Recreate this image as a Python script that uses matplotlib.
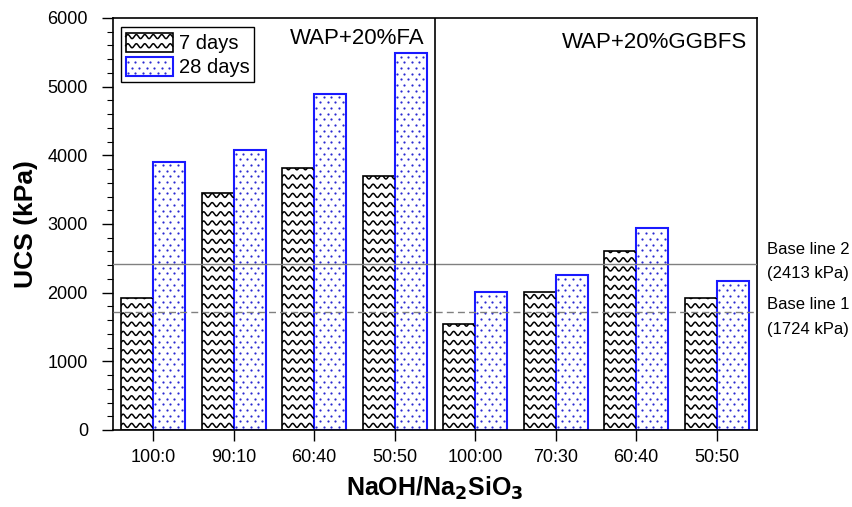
import numpy as np
import matplotlib.pyplot as plt
import matplotlib.transforms as mtransforms
from matplotlib.patches import Rectangle
from matplotlib.lines import Line2D
from matplotlib.legend_handler import HandlerBase

plt.rcParams['font.family'] = ['Liberation Sans', 'DejaVu Sans']

# NaOH/Na2SiO3 ratios, FA mixes first then GGBFS mixes
ratios = ['100:0', '90:10', '60:40', '50:50', '100:00', '70:30', '60:40', '50:50']
ucs_7 = [1920, 3455, 3810, 3700, 1545, 2015, 2610, 1920]
ucs_28 = [3905, 4075, 4900, 5495, 2005, 2250, 2945, 2170]
base_vals = [2413, 1724]
group_names = ['WAP+20%FA', 'WAP+20%GGBFS']

BLUE = '#1a1aff'
DOT = '#2a2ad0'


def wave_lines(x0, y0, wd, ht, period, gap, amp):
    # rows of sine curves filling a box
    xs = np.linspace(x0, x0 + wd, 200)
    out = []
    yy = y0 + gap * 0.5
    while yy < y0 + ht + amp:
        out.append((xs, yy + amp * np.sin(2 * np.pi * (xs - x0) / period)))
        yy += gap
    return out


def dot_grid(x0, y0, wd, ht, dx, dy):
    px, py = [], []
    row = 0
    yy = y0 + dy * 0.5
    while yy < y0 + ht:
        xx = x0 + dx * (0.3 if row % 2 == 0 else 0.8)
        while xx < x0 + wd:
            px.append(xx)
            py.append(yy)
            xx += dx
        yy += dy
        row += 1
    return px, py


fig = plt.figure(figsize=(8.52, 5.07), dpi=100)
ax = fig.add_axes([0.1326, 0.1519, 0.7559, 0.8126])
x = np.arange(len(ratios))
w = 0.4
ax.set_xlim(-0.5, 7.5)
ax.set_ylim(0, 6000)

bars7 = ax.bar(x - w / 2, ucs_7, w, facecolor='white', edgecolor='black', lw=1.2, zorder=2)
bars28 = ax.bar(x + w / 2, ucs_28, w, facecolor='white', edgecolor=BLUE, lw=1.5, zorder=2)

# pixel sizes expressed in data units
p0 = ax.transData.transform((0, 0))
p1 = ax.transData.transform((1, 1000))
sx = 1.0 / (p1[0] - p0[0])
sy = 1000.0 / (p1[1] - p0[1])

for b in bars7:
    for xs, ys in wave_lines(b.get_x(), 0, b.get_width(), b.get_height(),
                             8.5 * sx, 9.2 * sy, 2.0 * sy):
        ln = ax.plot(xs, ys, color='black', lw=1.1, zorder=2.5)[0]
        ln.set_clip_path(b)

for b in bars28:
    px, py = dot_grid(b.get_x(), 0, b.get_width(), b.get_height(), 7.5 * sx, 5.7 * sy)
    pts = ax.plot(px, py, ls='none', marker='o', ms=1.6, mew=0, color=DOT, zorder=2.5)[0]
    pts.set_clip_path(b)

# base lines and the divider between binder groups
ax.axhline(base_vals[0], color='#808080', lw=1.0, zorder=3)
ax.axhline(base_vals[1], color='#808080', lw=1.0, ls=(0, (5, 3)), zorder=3)
ax.axvline(3.5, color='black', lw=1.2, zorder=3)

trans = mtransforms.blended_transform_factory(ax.transAxes, ax.transData)
labels = [('Base line 2', base_vals[0], 11), ('(2413 kPa)', base_vals[0], -6.5),
          ('Base line 1', base_vals[1], 5), ('(1724 kPa)', base_vals[1], -13)]
for txt, yv, off in labels:
    ax.annotate(txt, xy=(1.015, yv), xycoords=trans, xytext=(0, off),
                textcoords='offset points', va='center', ha='left',
                fontsize=12, annotation_clip=False)

ax.text(0.4845, 0.975, group_names[0], transform=ax.transAxes, ha='right', va='top', fontsize=16)
ax.text(0.9845, 0.967, group_names[1], transform=ax.transAxes, ha='right', va='top', fontsize=16)


class WaveHandler(HandlerBase):
    def legend_artist(self, legend, orig_handle, fontsize, handlebox):
        x0, y0 = -handlebox.xdescent, -handlebox.ydescent
        wd, ht = handlebox.width, handlebox.height
        tr = handlebox.get_transform()
        handlebox.add_artist(Rectangle((x0, y0), wd, ht, facecolor='white', edgecolor='none', transform=tr))
        for xs, ys in wave_lines(x0, y0 + 1.0, wd, ht - 3.5, 6.1, 6.6, 1.45):
            handlebox.add_artist(Line2D(xs, ys, color='black', lw=1.1, transform=tr))
        edge = Rectangle((x0, y0), wd, ht, facecolor='none', edgecolor='black', lw=1.2, transform=tr)
        handlebox.add_artist(edge)
        return edge


class DotHandler(HandlerBase):
    def legend_artist(self, legend, orig_handle, fontsize, handlebox):
        x0, y0 = -handlebox.xdescent, -handlebox.ydescent
        wd, ht = handlebox.width, handlebox.height
        tr = handlebox.get_transform()
        handlebox.add_artist(Rectangle((x0, y0), wd, ht, facecolor='white', edgecolor='none', transform=tr))
        px, py = dot_grid(x0, y0, wd, ht, 5.4, 4.1)
        handlebox.add_artist(Line2D(px, py, ls='none', marker='o', ms=1.6, mew=0, color=DOT, transform=tr))
        edge = Rectangle((x0, y0), wd, ht, facecolor='none', edgecolor=BLUE, lw=1.5, transform=tr)
        handlebox.add_artist(edge)
        return edge


h7 = Rectangle((0, 0), 1, 1)
h28 = Rectangle((0, 0), 1, 1)
leg = ax.legend([h7, h28], ['7 days', '28 days'],
                handler_map={h7: WaveHandler(), h28: DotHandler()},
                loc='upper left', bbox_to_anchor=(0.012, 0.977), borderaxespad=0,
                fontsize=14.5, handlelength=2.33, handleheight=1.09,
                labelspacing=0.2, borderpad=0.25, handletextpad=0.3,
                fancybox=False, framealpha=1, edgecolor='black')
leg.get_frame().set_linewidth(1.0)

ax.set_xticks(x)
ax.set_xticklabels(ratios)
ax.set_yticks(np.arange(0, 6001, 1000))
ax.set_yticks(np.arange(0, 6001, 200), minor=True)
ax.tick_params(axis='y', which='major', direction='out', length=8, width=1.0, labelsize=13, pad=10)
ax.tick_params(axis='y', which='minor', direction='out', length=4, width=0.8)
ax.tick_params(axis='x', which='major', direction='out', length=8, width=1.0, labelsize=13, pad=6)
for s in ax.spines.values():
    s.set_linewidth(1.2)

ax.set_ylabel('UCS (kPa)', fontsize=19, fontweight='bold', labelpad=7)
ax.set_xlabel('NaOH/Na$_\\mathbf{2}$SiO$_\\mathbf{3}$', fontsize=18, fontweight='bold', labelpad=6)

fig.savefig('out.png', dpi=100)
